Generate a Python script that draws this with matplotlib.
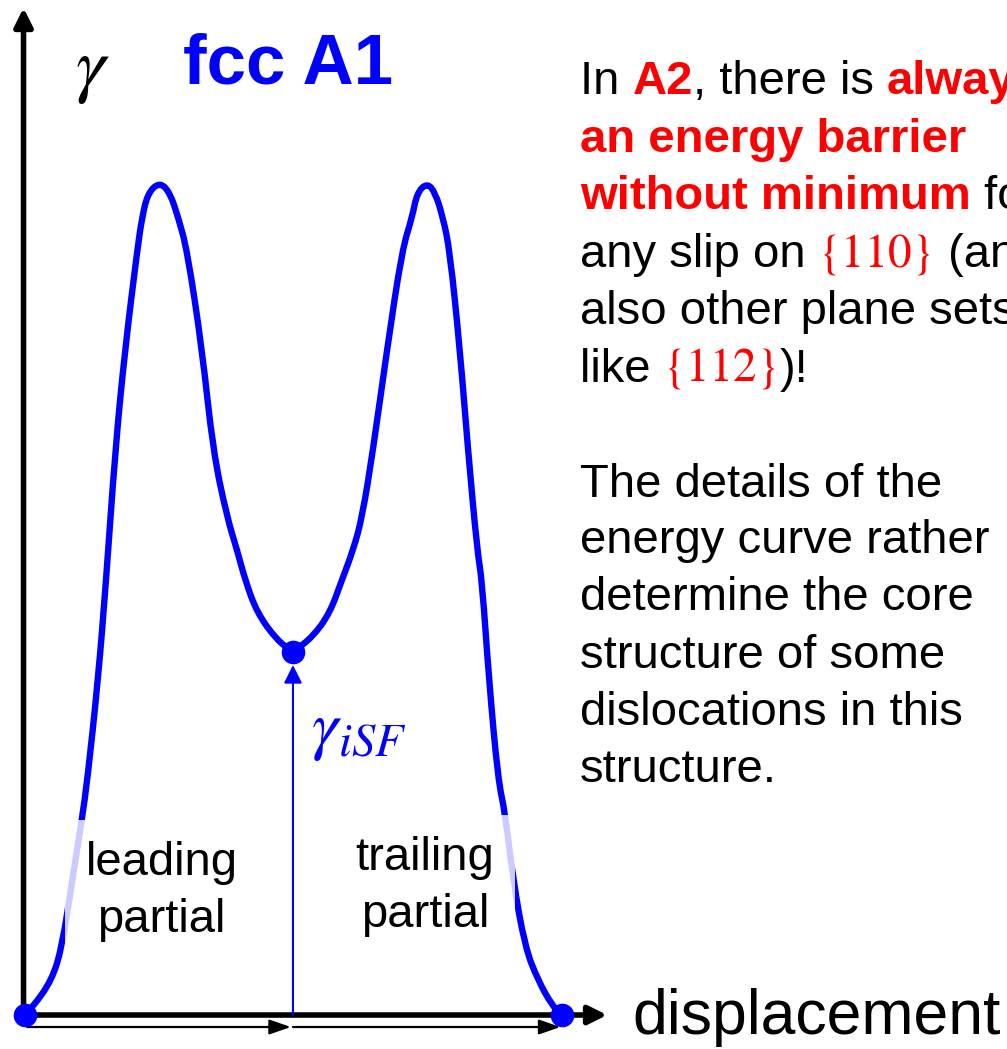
import matplotlib
matplotlib.use("Agg")
import matplotlib.pyplot as plt
import numpy as np
from matplotlib.patches import FancyArrowPatch, Rectangle, PathPatch
from matplotlib.path import Path
from matplotlib.transforms import IdentityTransform

plt.rcParams["mathtext.fontset"] = "stix"

# Generalized stacking-fault energy of an fcc (A1) crystal along the slip path,
# displacement in units of the full Burgers vector, gamma normalised to the peak.
displacement = [0.000, 0.015, 0.050, 0.069, 0.088, 0.106, 0.116, 0.136, 0.151, 0.168,
                0.186, 0.209, 0.218, 0.229, 0.251, 0.270, 0.285, 0.302, 0.330, 0.350,
                0.376, 0.395, 0.410, 0.432, 0.469, 0.499, 0.536, 0.568, 0.590, 0.611,
                0.628, 0.648, 0.674, 0.702, 0.721, 0.730, 0.749, 0.764, 0.778, 0.791,
                0.810, 0.825, 0.842, 0.851, 0.864, 0.881, 0.894, 0.909, 0.931, 0.955,
                0.983, 1.000]
gamma = [0.000, 0.010, 0.042, 0.082, 0.162, 0.235, 0.282, 0.402, 0.522, 0.678,
         0.798, 0.918, 0.958, 0.987, 1.000, 0.987, 0.958, 0.918, 0.798, 0.678,
         0.598, 0.558, 0.522, 0.483, 0.450, 0.436, 0.454, 0.483, 0.522, 0.558,
         0.598, 0.678, 0.798, 0.918, 0.958, 0.987, 0.999, 0.987, 0.958, 0.918,
         0.798, 0.678, 0.558, 0.522, 0.402, 0.282, 0.243, 0.162, 0.082, 0.042,
         0.010, 0.000]

title = "fcc A1"
axis_label_y = r"$\gamma$"
axis_label_x = "displacement"
sf_label = r"$\gamma_{iSF}$"
partial_labels = [("leading", "partial"), ("trailing", "partial")]

BLUE = "#0000ff"
RED = "#ff0000"
SANS = "Liberation Sans"
SERIF = "STIXGeneral"

W, H = 1007, 1049
fig = plt.figure(figsize=(W / 100, H / 100), dpi=100)
ax = fig.add_axes([0, 0, 1, 1])
ax.set_xlim(-0.0466, 1.8287)
ax.set_ylim(-0.0408, 1.2185)
ax.axis("off")

x = np.asarray(displacement)
y = np.asarray(gamma)
i_sf = int(np.argmin(y[10:-10])) + 10
x_sf, y_sf = x[i_sf], y[i_sf]

# energy curve drawn as a smoothed path (quadratic segments between midpoints)
pts = np.column_stack([x, y])
verts = [pts[0]]
codes = [Path.MOVETO]
for k in range(1, len(pts) - 1):
    verts += [pts[k], (pts[k] + pts[k + 1]) / 2]
    codes += [Path.CURVE3, Path.CURVE3]
verts.append(pts[-1])
codes.append(Path.LINETO)
ax.add_patch(PathPatch(Path(verts, codes), facecolor="none", edgecolor=BLUE,
                       lw=4.6, joinstyle="round", capstyle="round", zorder=3))

# the perfect-lattice end points and the stacking-fault minimum
idx = [0, i_sf, len(x) - 1]
ax.plot(x[idx], y[idx], "o", ms=16, color=BLUE, zorder=5)


def arrow(p0, p1, lw, color, hl, hw, ms, z=2, shrink_b=0.0):
    a = FancyArrowPatch(p0, p1,
                        arrowstyle=f"-|>,head_length={hl},head_width={hw}",
                        mutation_scale=ms, lw=lw, color=color,
                        shrinkA=0, shrinkB=shrink_b, zorder=z)
    ax.add_patch(a)


# coordinate axes
arrow((-0.0028, -0.004), (-0.0028, 1.209), 4.0, "black", 1.0, 0.5, 11)
arrow((-0.004, 0.0), (1.084, 0.0), 4.0, "black", 1.0, 0.5, 11)

# Burgers vectors of the two partials
arrow((x[0] + 0.004, -0.0144), (x_sf - 0.004, -0.0144), 1.6, "black", 1.3, 0.45, 10)
arrow((x_sf, -0.0144), (x[-1] - 0.003, -0.0144), 1.6, "black", 1.3, 0.45, 10)

# intrinsic stacking-fault energy marker
arrow((x_sf, 0.0), (x_sf, y_sf), 1.5, BLUE, 1.1, 0.55, 10, z=4, shrink_b=9.5)

renderer = fig.canvas.get_renderer()


def put(px, py, s, **kw):
    return fig.text(px / W, 1 - py / H, s, **kw)


def run_width(s, **kw):
    t = fig.text(0, 0, "|" + s + "|", **kw)
    w1 = t.get_window_extent(renderer).width
    t.set_text("||")
    w0 = t.get_window_extent(renderer).width
    t.remove()
    return w1 - w0


def text_line(px, baseline, runs):
    cx = px
    for s, style in runs:
        put(cx, baseline, s, ha="left", va="baseline", **style)
        cx += run_width(s, **style)


plain = dict(family=SANS, size=34, color="black")
hot = dict(family=SANS, size=34, color=RED, weight="bold")
miller = dict(family=SERIF, size=34, color=RED)

put(183, 83, title, family=SANS, size=51, weight="bold", color=BLUE,
    ha="left", va="baseline")
put(75, 70, axis_label_y, size=54, color="black", ha="left", va="center")
put(632, 1034, axis_label_x, family=SANS, size=45, color="black",
    ha="left", va="baseline")
put(311, 697, sf_label, size=48, color=BLUE, ha="left", va="top", zorder=6)

# partial dislocation labels on translucent white boxes
for (l1, l2), cx, b1, b2 in zip(partial_labels, [161.5, 425], [875, 870], [932, 927]):
    t1 = put(cx, b1, l1, ha="center", va="baseline", zorder=7, **plain)
    t2 = put(cx, b2, l2, ha="center", va="baseline", zorder=7, **plain)
    e1 = t1.get_window_extent(renderer)
    e2 = t2.get_window_extent(renderer)
    pad = 21
    x0 = min(e1.x0, e2.x0) - pad
    x1 = max(e1.x1, e2.x1) + pad
    y0 = min(e1.y0, e2.y0) - pad
    y1 = max(e1.y1, e2.y1) + pad
    fig.patches.append(Rectangle((x0, y0), x1 - x0, y1 - y0,
                                 transform=IdentityTransform(), facecolor="white",
                                 edgecolor="none", alpha=0.8, zorder=6))

left = 580
text_line(left, 94, [("In ", plain), ("A2", hot), (", there is ", plain), ("always", hot)])
text_line(left, 152, [("an energy barrier", hot)])
text_line(left, 209, [("without minimum", hot), (" for", plain)])
text_line(left, 267, [("any slip on ", plain), ("{110}", miller), (" (and", plain)])
text_line(left, 324, [("also other plane sets", plain)])
text_line(left, 382, [("like ", plain), ("{112}", miller), (")!", plain)])

paragraph = ["The details of the", "energy curve rather", "determine the core",
             "structure of some", "dislocations in this", "structure."]
for line, base in zip(paragraph, [497, 553, 610, 668, 725, 782]):
    text_line(left, base, [(line, plain)])

fig.savefig("out.png", dpi=100)
